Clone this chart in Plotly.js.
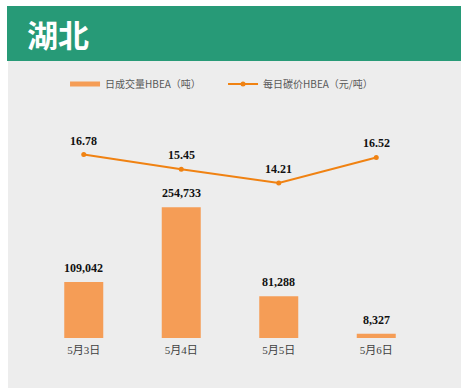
<!DOCTYPE html>
<html>
<head>
<meta charset="utf-8">
<script src="https://cdn.plot.ly/plotly-3.0.1.min.js"></script>
<style>
  html, body { margin: 0; padding: 0; background: #ffffff; }
  #wrap { position: relative; width: 463px; height: 390px; overflow: hidden; }
  #hdr { position: absolute; left: 7px; top: 6px; width: 454px; height: 55px; background: #279a77; }
  #panel { position: absolute; left: 8px; top: 61px; width: 453px; height: 327px; background: #ededed; }
  #chart { position: absolute; left: 0; top: 0; width: 463px; height: 390px; }
</style>
</head>
<body>
<div id="wrap">
  <div id="hdr"></div>
  <div id="panel"></div>
  <div id="chart"></div>
</div>
<script>
const categories = ['5月3日', '5月4日', '5月5日', '5月6日'];
const volumes = [109042, 254733, 81288, 8327];
const prices = [16.78, 15.45, 14.21, 16.52];
const volumeName = '日成交量HBEA（吨）';
const priceName = '每日碳价HBEA（元/吨）';
const titleText = '湖北';

const barColor = '#f59d56';
const lineColor = '#f08212';
const serif = '"Liberation Serif", "Times New Roman", "Noto Sans CJK SC", serif';
const sans = '"Noto Sans CJK SC", "Noto Sans", sans-serif';

const fmtInt = v => v.toLocaleString('en-US');

const traces = [
  {
    type: 'bar', x: categories, y: volumes, name: volumeName,
    marker: {color: barColor}, showlegend: false, hoverinfo: 'skip'
  },
  {
    type: 'scatter', mode: 'lines', x: [categories[0]], y: [null], name: volumeName,
    line: {color: barColor, width: 5}, showlegend: true, hoverinfo: 'skip'
  },
  {
    type: 'scatter', mode: 'lines+markers', x: categories, y: prices, name: priceName,
    yaxis: 'y2', line: {color: lineColor, width: 2}, marker: {color: lineColor, size: 5},
    hoverinfo: 'skip'
  }
];

const annotations = [];
categories.forEach((c, i) => {
  annotations.push({
    x: c, y: volumes[i], xref: 'x', yref: 'y', text: fmtInt(volumes[i]),
    showarrow: false, yanchor: 'middle', yshift: 14,
    font: {family: serif, size: 12, color: '#111111', weight: 'bold'}
  });
  annotations.push({
    x: c, y: prices[i], xref: 'x', yref: 'y2', text: prices[i].toFixed(2),
    showarrow: false, yanchor: 'middle', yshift: 14,
    font: {family: serif, size: 12, color: '#111111', weight: 'bold'}
  });
});

const layout = {
  width: 463, height: 390,
  margin: {l: 35, r: 38, t: 110, b: 52, pad: 0},
  paper_bgcolor: 'rgba(0,0,0,0)',
  plot_bgcolor: 'rgba(0,0,0,0)',
  bargap: 0.6,
  title: {
    text: titleText, xref: 'container', yref: 'container',
    x: 27 / 463, xanchor: 'left', y: 1 - 36 / 390, yanchor: 'middle',
    font: {family: sans, size: 31, color: '#ffffff', weight: 'bold'}
  },
  xaxis: {
    type: 'category', range: [-0.5, 3.5], showgrid: false, zeroline: false,
    showline: false, ticks: '', ticklabelstandoff: 4,
    tickfont: {family: serif, size: 11, color: '#404040'}, fixedrange: true
  },
  yaxis: {
    range: [0, 444400], visible: false, showgrid: false, zeroline: false, fixedrange: true
  },
  yaxis2: {
    range: [0.18, 20.81], overlaying: 'y', side: 'right', visible: false,
    showgrid: false, zeroline: false, fixedrange: true
  },
  showlegend: true,
  legend: {
    orientation: 'h', x: 0.077, xanchor: 'left', y: 1.114, yanchor: 'middle',
    font: {family: sans, size: 10, color: '#595959'},
    bgcolor: 'rgba(0,0,0,0)', itemwidth: 30, traceorder: 'normal',
    entrywidth: 113, entrywidthmode: 'pixels'
  },
  annotations: annotations
};

Plotly.newPlot('chart', traces, layout, {displayModeBar: false, staticPlot: true});
</script>
</body>
</html>
